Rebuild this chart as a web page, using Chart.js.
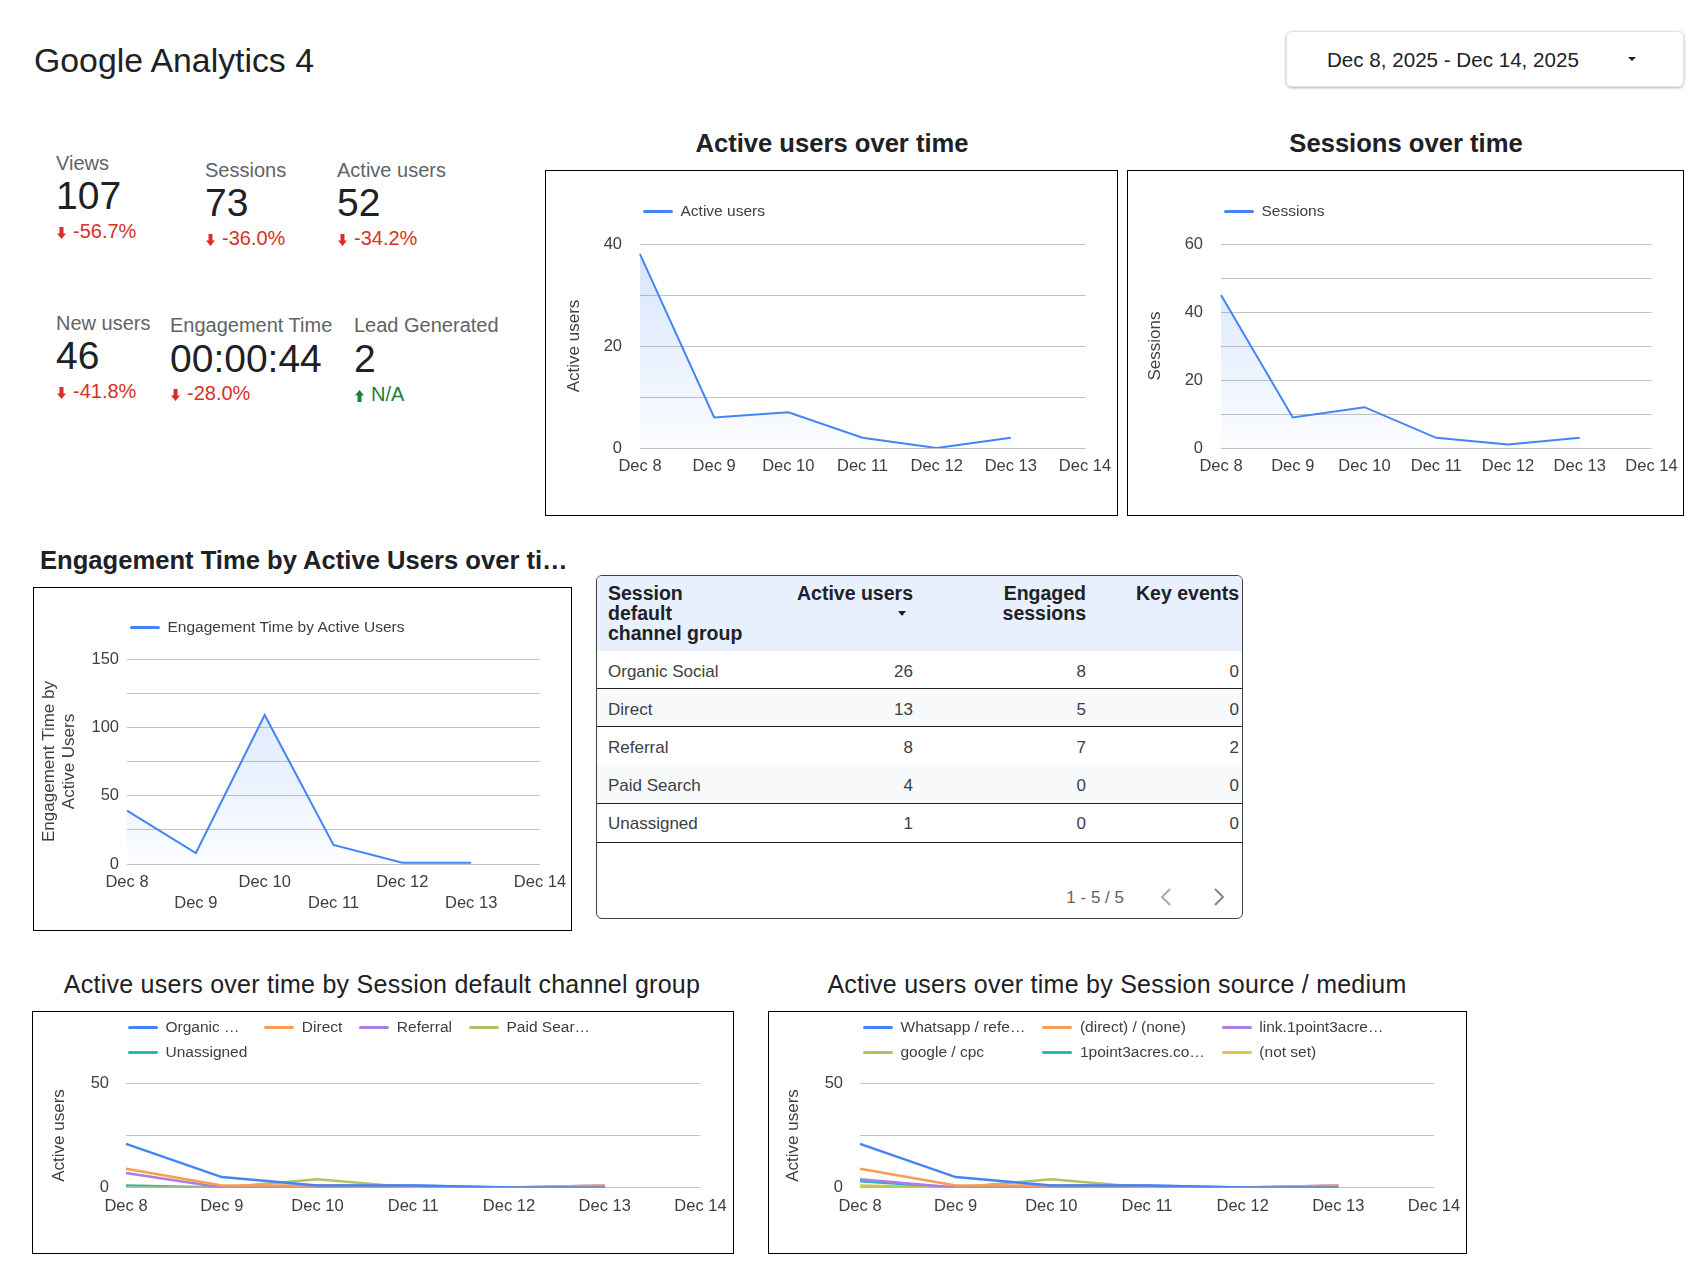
<!DOCTYPE html>
<html>
<head>
<meta charset="utf-8">
<title>Google Analytics 4</title>
<script src="https://cdn.jsdelivr.net/npm/chart.js@4.4.1/dist/chart.umd.min.js"></script>
<style>
body{margin:0;width:1701px;height:1272px;position:relative;background:#fff;font-family:"Liberation Sans",Arial,sans-serif;overflow:hidden}
.t{position:absolute;white-space:nowrap;line-height:1}
.t svg{display:block}
.box{position:absolute;border:1px solid #000;box-sizing:border-box;background:#fff}
.box canvas{position:absolute;left:0;top:0}
.ctitle{position:absolute;font-weight:bold;font-size:25.6px;color:#202124;line-height:1;white-space:nowrap}
.btitle{position:absolute;font-size:25px;letter-spacing:0.25px;color:#202124;line-height:1;white-space:nowrap;text-align:center}
.legend{position:absolute;display:grid;column-gap:17px;font-size:15.5px;color:#3c4043;z-index:2}
.lg-item{display:flex;align-items:center;white-space:nowrap}
.lg-line{display:inline-block;width:30px;height:3px;border-radius:1.5px;margin-right:7.5px}
#datebox{position:absolute;left:1286px;top:31px;width:398px;height:56px;box-sizing:border-box;border:1px solid #e3e3e3;border-radius:6px;box-shadow:0 1px 3px rgba(60,64,67,.4)}
#caret{position:absolute;left:1628px;top:57px;width:0;height:0;border-left:4.5px solid transparent;border-right:4.5px solid transparent;border-top:4.5px solid #202124}
#tbl{position:absolute;left:596px;top:575px;width:647px;height:344px;box-sizing:border-box;border:1px solid #3c4043;border-radius:6px;overflow:hidden}
</style>
</head>
<body>

<div class="t" style="left:34px;top:44.4px;font-size:33.8px;color:#202124">Google Analytics 4</div>
<div id="datebox"></div>
<div class="t" style="left:1327px;top:49.6px;font-size:20.6px;color:#202124">Dec 8, 2025 - Dec 14, 2025</div>
<div id="caret"></div>

<div class="ctitle" style="left:532px;width:600px;top:131.3px;text-align:center">Active users over time</div>
<div class="ctitle" style="left:1106px;width:600px;top:131.3px;text-align:center">Sessions over time</div>
<div class="ctitle" style="left:40px;top:548.3px">Engagement Time by Active Users over ti…</div>
<div class="btitle" style="left:32px;width:700px;top:972px">Active users over time by Session default channel group</div>
<div class="btitle" style="left:767px;width:700px;top:972px">Active users over time by Session source / medium</div>

<div class="box" style="left:545px;top:170px;width:573px;height:346px"><canvas id="c1" width="571" height="344"></canvas></div>
<div class="box" style="left:1127px;top:170px;width:557px;height:346px"><canvas id="c2" width="555" height="344"></canvas></div>
<div class="box" style="left:33px;top:587px;width:539px;height:344px"><canvas id="c3" width="537" height="342"></canvas></div>
<div class="box" style="left:32px;top:1011px;width:702px;height:243px"><canvas id="c5" width="700" height="241"></canvas></div>
<div class="box" style="left:768px;top:1011px;width:699px;height:243px"><canvas id="c6" width="697" height="241"></canvas></div>

<div class="legend" id="lg1" style="left:643px;top:201px;grid-template-rows:20px"></div>
<div class="legend" id="lg2" style="left:1224px;top:201px;grid-template-rows:20px"></div>
<div class="legend" id="lg3" style="left:130px;top:617px;grid-template-rows:20px"></div>
<div class="legend" id="lg5" style="left:128px;top:1014.5px;grid-template-columns:repeat(4,auto);grid-auto-rows:25px"></div>
<div class="legend" id="lg6" style="left:863px;top:1014.5px;grid-template-columns:repeat(3,auto);grid-auto-rows:25px"></div>

<div id="tbl"></div>

<script>
// ---- data ----
var days = ['Dec 8', 'Dec 9', 'Dec 10', 'Dec 11', 'Dec 12', 'Dec 13', 'Dec 14'];

var kpiNames = ['Views', 'Sessions', 'Active users', 'New users', 'Engagement Time', 'Lead Generated'];
var kpiValues = ['107', '73', '52', '46', '00:00:44', '2'];
var kpiChanges = ['-56.7%', '-36.0%', '-34.2%', '-41.8%', '-28.0%', 'N/A'];

var activeUsers = [38, 6, 7, 2, 0, 2, null];
var sessions = [45, 9, 12, 3, 1, 3, null];
var engagementTime = [39, 8, 109, 14, 1, 1, null];

var channels = ['Organic Social', 'Direct', 'Referral', 'Paid Search', 'Unassigned'];
var channelLegend = ['Organic …', 'Direct', 'Referral', 'Paid Sear…', 'Unassigned'];
var channelActive = [26, 13, 8, 4, 1];
var channelEngaged = [8, 5, 7, 0, 0];
var channelKeyEvents = [0, 0, 2, 0, 0];

var organicSocial = [21, 5, 1, 1, 0, 0, null];
var direct = [9, 1, 1, 0, 0, 1, null];
var referral = [7, 0, 1, 1, 0, 1, null];
var paidSearch = [0, 0, 4, 0, 0, 0, null];
var unassigned = [1, 0, 0, 0, 0, 0, null];

var sourceLegend = ['Whatsapp / refe…', '(direct) / (none)', 'link.1point3acre…', 'google / cpc', '1point3acres.co…', '(not set)'];
var whatsapp = [21, 5, 1, 1, 0, 0, null];
var directNone = [9, 1, 1, 0, 0, 1, null];
var linkReferral = [4, 0, 1, 1, 0, 1, null];
var googleCpc = [0, 0, 4, 0, 0, 0, null];
var acresReferral = [3, 0, 0, 0, 0, 0, null];
var notSet = [1, 0, 0, 0, 0, 0, null];

var palette = ['#4285f4', '#f89d52', '#ab7ee6', '#afc362', '#27b5c6', '#e9c13c'];

var FONT = 'Liberation Sans';

// ---- helpers ----
function text(s, x, baseline, size, color, extra) {
    var d = document.createElement('div');
    d.className = 't';
    d.textContent = s;
    d.style.fontSize = size + 'px';
    d.style.color = color;
    d.style.top = (baseline - 0.8465 * size) + 'px';
    if (extra && extra.right) {
        d.style.right = (1701 - x) + 'px';
    } else {
        d.style.left = x + 'px';
    }
    if (extra && extra.bold) d.style.fontWeight = 'bold';
    document.body.appendChild(d);
    return d;
}

function arrow(x, baseline, up) {
    var d = document.createElement('div');
    d.className = 't';
    d.style.left = x + 'px';
    d.style.top = (baseline - 11.5) + 'px';
    d.innerHTML = up
        ? '<svg width="9" height="12"><path d="M4.5 0l4.5 5.5h-2.5v6.5h-4v-6.5h-2.5z" fill="#188038"/></svg>'
        : '<svg width="9" height="12"><path d="M2.5 0h4v6.5h2.5l-4.5 5.5l-4.5-5.5h2.5z" fill="#d93025"/></svg>';
    document.body.appendChild(d);
}

// KPI scorecards: x, label/value/change baselines
var kpiPos = [[56, 170, 209, 238], [205, 177, 216, 245], [337, 177, 216, 245],
              [56, 330, 369, 398], [170, 332, 372, 400], [354, 332, 372, 401]];
kpiNames.forEach(function (name, i) {
    var p = kpiPos[i];
    text(name, p[0], p[1], 20, '#5f6368');
    text(kpiValues[i], p[0], p[2], 39, '#202124');
    var up = kpiChanges[i].charAt(0) !== '-';
    arrow(p[0] + 1, p[3], up);
    text(kpiChanges[i], p[0] + 17, p[3], 20, up ? '#188038' : '#d93025');
});

// ---- table ----
(function () {
    var tbl = document.getElementById('tbl');
    var head = document.createElement('div');
    head.style.cssText = 'position:absolute;left:0;top:0;width:100%;height:75px;background:#e8f0fe';
    tbl.appendChild(head);
    var rowTops = [651, 688, 726, 765, 803, 842];
    var r;
    for (r = 0; r < channels.length; r++) {
        if (r % 2 === 1) {
            var bg = document.createElement('div');
            bg.style.cssText = 'position:absolute;left:0;width:100%;background:#f8f9fa;top:' + (rowTops[r] - 576) + 'px;height:' + (rowTops[r + 1] - rowTops[r]) + 'px';
            tbl.appendChild(bg);
        }
    }
    for (r = 0; r < channels.length; r++) {
        if (r !== 2) {
            var ln = document.createElement('div');
            ln.style.cssText = 'position:absolute;left:0;width:100%;height:1px;background:#202124;top:' + (rowTops[r + 1] - 576) + 'px';
            tbl.appendChild(ln);
        }
    }
    function headCell(lines, x, right) {
        var d = document.createElement('div');
        d.className = 't';
        d.style.cssText += ';font-size:19.5px;font-weight:bold;color:#202124;line-height:19.7px;top:584.1px;' + (right ? 'text-align:right;right:' + (1701 - x) + 'px' : 'left:' + x + 'px');
        d.innerHTML = lines.join('<br>');
        document.body.appendChild(d);
    }
    headCell(['Session', 'default', 'channel group'], 608, false);
    headCell(['Active users'], 913, true);
    headCell(['Engaged', 'sessions'], 1086, true);
    headCell(['Key events'], 1239, true);
    var tri = document.createElement('div');
    tri.style.cssText = 'position:absolute;left:898px;top:611px;width:0;height:0;border-left:4px solid transparent;border-right:4px solid transparent;border-top:5px solid #202124';
    document.body.appendChild(tri);

    var baselines = [677.3, 715, 753.3, 791, 829.3];
    channels.forEach(function (c, i) {
        text(c, 608, baselines[i], 17, '#3c4043');
        text(String(channelActive[i]), 913, baselines[i], 17, '#3c4043', {right: true});
        text(String(channelEngaged[i]), 1086, baselines[i], 17, '#3c4043', {right: true});
        text(String(channelKeyEvents[i]), 1239, baselines[i], 17, '#3c4043', {right: true});
    });
    text('1 - 5 / 5', 1124, 903, 17, '#5f6368', {right: true});
    var pg = document.createElement('div');
    pg.className = 't';
    pg.style.left = '1160px';
    pg.style.top = '888px';
    pg.innerHTML = '<svg width="66" height="18"><polyline points="10,1 2,9 10,17" fill="none" stroke="#a8acb1" stroke-width="2"/>' +
        '<polyline points="55,1 63,9 55,17" fill="none" stroke="#80868b" stroke-width="2"/></svg>';
    document.body.appendChild(pg);
})();

// ---- charts ----
var htmlLegend = {
    id: 'htmlLegend',
    afterUpdate: function (chart, args, opts) {
        var el = document.getElementById(opts.containerID);
        el.innerHTML = '';
        chart.options.plugins.legend.labels.generateLabels(chart).forEach(function (item) {
            var li = document.createElement('div');
            li.className = 'lg-item';
            var sw = document.createElement('span');
            sw.className = 'lg-line';
            sw.style.background = item.strokeStyle;
            var tx = document.createElement('span');
            tx.textContent = item.text;
            li.appendChild(sw);
            li.appendChild(tx);
            el.appendChild(li);
        });
    }
};

function blueFill(context) {
    var chart = context.chart;
    var area = chart.chartArea;
    if (!area) return 'rgba(66,133,244,0.12)';
    var g = chart.ctx.createLinearGradient(0, area.top, 0, area.bottom);
    g.addColorStop(0, 'rgba(66,133,244,0.22)');
    g.addColorStop(1, 'rgba(66,133,244,0.02)');
    return g;
}

function renderChart(id, legendId, datasets, geo) {
    var ctx = document.getElementById(id).getContext('2d');
    return new Chart(ctx, {
        type: 'line',
        data: {labels: days, datasets: datasets},
        plugins: [htmlLegend],
        options: {
            responsive: false,
            animation: false,
            events: [],
            layout: {padding: geo.padding},
            elements: {point: {radius: 0}, line: {tension: 0}},
            plugins: {
                legend: {display: false},
                tooltip: {enabled: false},
                htmlLegend: {containerID: legendId}
            },
            scales: {
                x: {
                    grid: {display: false, drawTicks: false},
                    border: {display: false},
                    ticks: {
                        autoSkip: false, maxRotation: 0, color: '#3c4043',
                        padding: geo.xPad,
                        font: {family: FONT, size: 16.5, lineHeight: geo.xLine || 1.2},
                        callback: geo.xLabel || function (v, i) { return days[i]; }
                    },
                    afterFit: function (s) {
                        s.height = geo.xHeight;
                        // edge labels may hang into the layout padding
                        s.paddingLeft = 0;
                        s.paddingRight = 0;
                    }
                },
                y: {
                    min: 0, max: geo.max,
                    grid: {color: '#c2c2c2', drawTicks: false},
                    border: {display: false},
                    ticks: {
                        stepSize: geo.step, padding: geo.yPad, color: '#3c4043',
                        font: {family: FONT, size: 16.5},
                        callback: function (v) { return v % geo.labelEvery === 0 ? v : ''; }
                    },
                    title: {
                        display: true, text: geo.title, color: '#3c4043',
                        padding: {top: 0, bottom: 0},
                        font: {family: FONT, size: 17, lineHeight: 1.15}
                    },
                    afterFit: function (s) { s.width = geo.yWidth; }
                }
            }
        }
    });
}

function areaSet(label, values) {
    return {label: label, data: values, borderColor: '#4285f4', borderWidth: 2, fill: 'origin', backgroundColor: blueFill};
}
function lineSet(label, values, i) {
    return {label: label, data: values, borderColor: palette[i], backgroundColor: palette[i], borderWidth: 2.5, fill: false};
}

renderChart('c1', 'lg1', [areaSet('Active users', activeUsers)], {
    padding: {left: 19, right: 32, top: 73, bottom: 37}, yWidth: 75, xHeight: 30,
    xPad: 8.5, yPad: 18, max: 40, step: 10, labelEvery: 20, title: 'Active users'
});

renderChart('c2', 'lg2', [areaSet('Sessions', sessions)], {
    padding: {left: 18, right: 31.5, top: 73, bottom: 37}, yWidth: 75, xHeight: 30,
    xPad: 8.5, yPad: 18, max: 60, step: 10, labelEvery: 20, title: 'Sessions'
});

renderChart('c3', 'lg3', [areaSet('Engagement Time by Active Users', engagementTime)], {
    padding: {left: 6, right: 31, top: 71, bottom: 16}, yWidth: 87, xHeight: 50,
    xPad: 7.6, xLine: 1.3, yPad: 8, max: 150, step: 25, labelEvery: 50,
    title: ['Engagement Time by', 'Active Users'],
    xLabel: function (v, i) { return i % 2 ? ['', days[i]] : days[i]; }
});

var channelSeries = [organicSocial, direct, referral, paidSearch, unassigned];
renderChart('c5', 'lg5', channelSeries.map(function (s, i) { return lineSet(channelLegend[i], s, i); }), {
    padding: {left: 17, right: 32.5, top: 71.5, bottom: 35.5}, yWidth: 76, xHeight: 30,
    xPad: 9, yPad: 17, max: 50, step: 25, labelEvery: 50, title: 'Active users'
});

var sourceSeries = [whatsapp, directNone, linkReferral, googleCpc, acresReferral, notSet];
renderChart('c6', 'lg6', sourceSeries.map(function (s, i) { return lineSet(sourceLegend[i], s, i); }), {
    padding: {left: 15, right: 32, top: 71.5, bottom: 35.5}, yWidth: 76, xHeight: 30,
    xPad: 9, yPad: 17, max: 50, step: 25, labelEvery: 50, title: 'Active users'
});
</script>
</body>
</html>
